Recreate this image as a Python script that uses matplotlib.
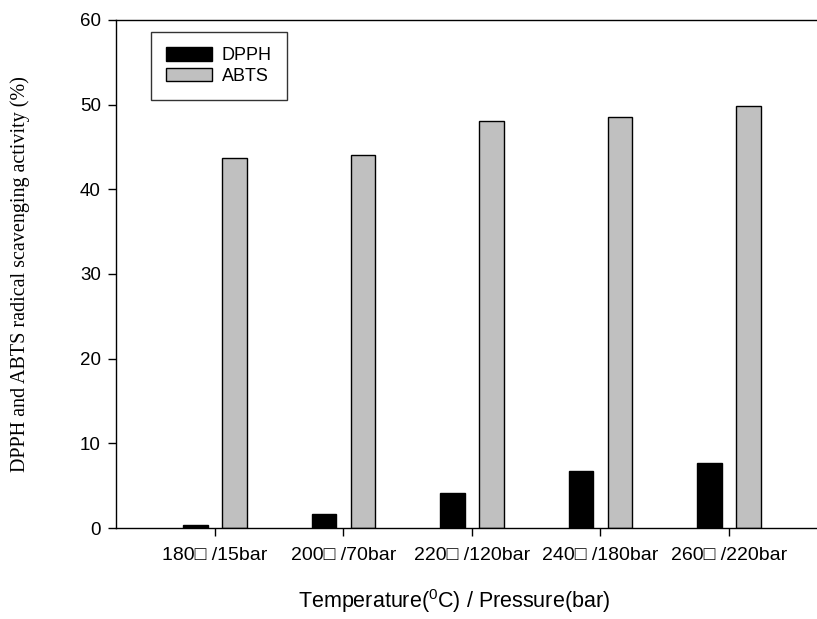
import matplotlib
matplotlib.use("Agg")
import matplotlib.pyplot as plt
import numpy as np

categories = ["180\u25a1 /15bar", "200\u25a1 /70bar", "220\u25a1 /120bar",
              "240\u25a1 /180bar", "260\u25a1 /220bar"]
dpph = [0.3, 1.6, 4.1, 6.7, 7.7]
abts = [43.7, 44.0, 48.1, 48.5, 49.8]

plt.rcParams['font.family'] = ['Liberation Sans', 'DejaVu Sans']
plt.rcParams['mathtext.fontset'] = 'custom'
plt.rcParams['mathtext.rm'] = 'Liberation Sans'
plt.rcParams['mathtext.it'] = 'Liberation Sans:italic'

fig = plt.figure(figsize=(8.17, 6.19), dpi=100)
ax = fig.add_axes([0.142, 0.147, 0.858, 0.821])

x = np.arange(len(categories))
w = 0.19
off = 0.152
ax.bar(x - off, dpph, width=w, color='black', edgecolor='black', linewidth=1.0, label='DPPH')
ax.bar(x + off, abts, width=w, color='#c0c0c0', edgecolor='black', linewidth=1.0, label='ABTS')

ax.set_xlim(-0.77, 4.685)
ax.set_ylim(0, 60)
ax.set_yticks(range(0, 61, 10))
ax.set_xticks(x)
ax.set_xticklabels(categories, fontsize=14)
ax.tick_params(axis='y', labelsize=13.5, direction='out', length=6, width=1, pad=5)
ax.tick_params(axis='x', direction='out', length=6, width=1, pad=8)
ax.spines['right'].set_visible(False)
for s in ['left', 'bottom', 'top']:
    ax.spines[s].set_linewidth(1.0)

ax.set_xlabel(r'Temperature($^{0}$C) / Pressure(bar)', fontsize=15.5, va='center')
ax.xaxis.set_label_coords((454 - 116) / 701, (528 - 601) / 508)
ax.set_ylabel('DPPH and ABTS radical scavenging activity (%)', fontsize=14.5,
              family=['Liberation Serif'], va='center')
ax.yaxis.set_label_coords((20 - 116) / 701, 0.5)

leg = ax.legend(loc='upper left', bbox_to_anchor=(0.05, 0.976), fontsize=13,
                frameon=True, fancybox=False, edgecolor='black', handlelength=2.5,
                handleheight=0.75, borderpad=0.85, labelspacing=0.2, handletextpad=0.55,
                borderaxespad=0)
leg.get_frame().set_linewidth(1.0)

fig.savefig('out.png', dpi=100)
